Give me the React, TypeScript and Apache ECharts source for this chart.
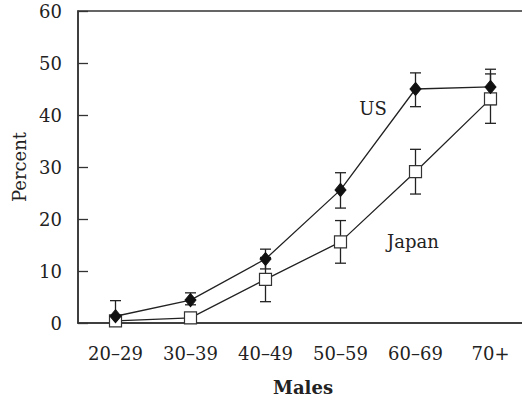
import React, { useEffect, useRef } from "react";
import * as echarts from "echarts";

const categories = ["20–29", "30–39", "40–49", "50–59", "60–69", "70+"];
const usValues = [1.3, 4.4, 12.3, 25.6, 45.0, 45.4];
const usLow = [0, 3.5, 10.4, 22.1, 41.6, 42.0];
const usHigh = [4.3, 5.8, 14.2, 28.9, 48.1, 48.8];
const japanValues = [0.4, 1.0, 8.4, 15.6, 29.1, 43.1];
const japanLow = [0, 0.2, 4.1, 11.5, 24.8, 38.4];
const japanHigh = [1.2, 1.8, 12.6, 19.7, 33.4, 47.9];
const yTicks = { min: 0, max: 60, interval: 10 };

const FONT = "DejaVu Serif";
const INK = "#222";

function errorSeries(low: number[], high: number[]) {
  return {
    type: "custom",
    z: 2,
    data: low.map((l, i) => [i, l, high[i]]),
    renderItem: (_params: any, api: any) => {
      const x = api.value(0);
      const lo = api.coord([x, api.value(1)]);
      const hi = api.coord([x, api.value(2)]);
      const cap = 5.5;
      const style = { stroke: INK, lineWidth: 1.3 };
      return {
        type: "group",
        children: [
          { type: "line", shape: { x1: lo[0], y1: lo[1], x2: hi[0], y2: hi[1] }, style },
          { type: "line", shape: { x1: lo[0] - cap, y1: lo[1], x2: lo[0] + cap, y2: lo[1] }, style },
          { type: "line", shape: { x1: hi[0] - cap, y1: hi[1], x2: hi[0] + cap, y2: hi[1] }, style },
        ],
      };
    },
  };
}

export default function App() {
  const ref = useRef<HTMLDivElement>(null);
  useEffect(() => {
    if (!ref.current) return;
    const chart = echarts.init(ref.current, null, { renderer: "svg" });
    chart.setOption({
      animation: false,
      backgroundColor: "#fff",
      grid: {
        left: 78,
        top: 11,
        width: 450,
        height: 312,
        containLabel: false,
        outerBoundsMode: "none",
        show: true,
        borderColor: "#333",
        borderWidth: 1.5,
        backgroundColor: "transparent",
      },
      xAxis: {
        type: "category",
        data: categories,
        boundaryGap: true,
        name: "Males",
        nameLocation: "middle",
        nameGap: 55,
        nameTextStyle: { fontFamily: FONT, fontSize: 18, fontWeight: "bold", color: INK },
        axisLine: { lineStyle: { color: "#333", width: 1.5 } },
        axisTick: { inside: true, alignWithLabel: true, length: 10, lineStyle: { color: "#333", width: 1.3 } },
        axisLabel: { fontFamily: FONT, fontSize: 18, color: INK, margin: 21 },
        splitLine: { show: false },
      },
      yAxis: {
        type: "value",
        min: yTicks.min,
        max: yTicks.max,
        interval: yTicks.interval,
        name: "Percent",
        nameLocation: "middle",
        nameGap: 50,
        nameTextStyle: { fontFamily: FONT, fontSize: 18, color: INK },
        axisLine: { show: true, lineStyle: { color: "#333", width: 1.5 } },
        axisTick: { show: true, inside: true, length: 10, lineStyle: { color: "#333", width: 1.3 } },
        axisLabel: { fontFamily: FONT, fontSize: 18, color: INK, margin: 16 },
        splitLine: { show: false },
      },
      graphic: [
        {
          type: "text",
          x: 373,
          y: 108,
          style: { text: "US", font: `18px "${FONT}"`, fill: INK, align: "center", verticalAlign: "middle" },
        },
        {
          type: "text",
          x: 413,
          y: 241,
          style: { text: "Japan", font: `18px "${FONT}"`, fill: INK, align: "center", verticalAlign: "middle" },
        },
      ],
      series: [
        errorSeries(usLow, usHigh),
        errorSeries(japanLow, japanHigh),
        {
          type: "line",
          name: "Japan",
          z: 3,
          data: japanValues,
          symbol: "rect",
          symbolSize: 12,
          lineStyle: { color: INK, width: 1.3 },
          itemStyle: { color: "#fff", borderColor: "#333", borderWidth: 1.2 },
        },
        {
          type: "line",
          name: "US",
          z: 4,
          data: usValues,
          symbol: "diamond",
          symbolSize: [11, 13],
          lineStyle: { color: INK, width: 1.3 },
          itemStyle: { color: "#111", borderColor: "#111", borderWidth: 1 },
        },
      ],
    });
    return () => chart.dispose();
  }, []);
  return <div ref={ref} style={{ position: "fixed", left: 0, top: 0, width: 522, height: 400 }} />;
}
